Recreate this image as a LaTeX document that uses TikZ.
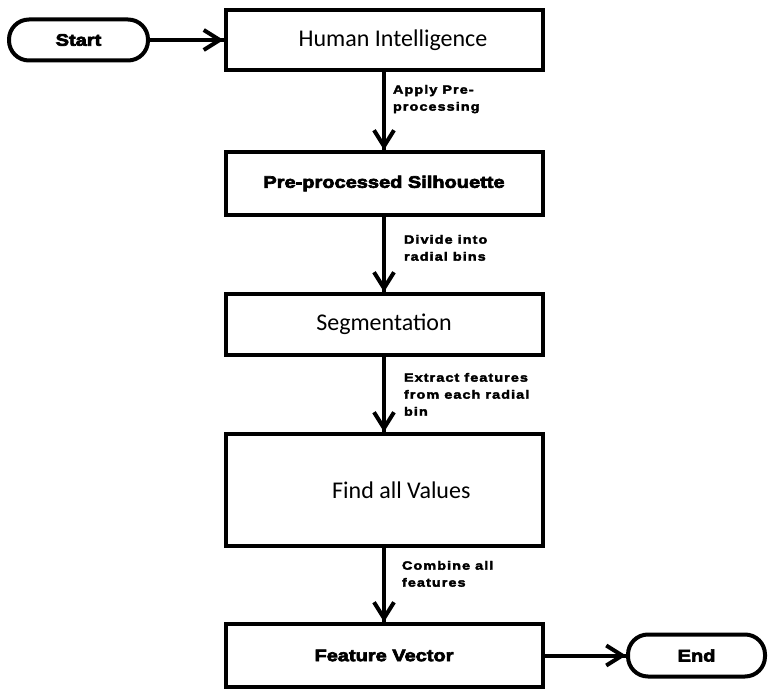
\documentclass[tikz,border=0pt]{standalone}
\usepackage{fontspec}
\usetikzlibrary{arrows.meta}
\usetikzlibrary{decorations.markings}
\usetikzlibrary{positioning}
\newfontfamily\calibrifont{Carlito}
\newfontfamily\blackfont[FakeStretch=1.2,FakeBold=4]{Liberation Sans Bold}
\newfontfamily\notefont[FakeStretch=1.2,LetterSpace=9,FakeBold=3]{Liberation Sans Bold}
\tikzset{flow/.style = {line width = 3pt,
                        decoration={markings,
                                    mark=at position 1 with {\arrow[line width=3pt]{Straight Barb[length=12pt, width=15pt]}}},
                        postaction={decorate}}}
\tikzset{box/.style = {draw, line width = 3pt, minimum width = 237.75pt, inner sep = 0}}
\tikzset{terminal/.style = {draw, line width = 3pt, rounded corners = 15pt, inner sep = 0,
                            font = \blackfont\fontsize{12.5}{14}\selectfont}}
\tikzset{note/.style = {align = left, inner sep = 0, outer sep = 0,
                        font = \notefont\fontsize{9}{12.75}\selectfont}}
\tikzset{plain/.style = {font = \calibrifont\fontsize{18}{22}\selectfont}}
\tikzset{heavy/.style = {font = \blackfont\fontsize{12.5}{14}\selectfont}}
\begin{document}
\begin{tikzpicture}[x = 0.75pt, y = -0.75pt]
  \useasboundingbox (0, 0) rectangle (774, 698);
  \node [terminal, minimum width = 104.25pt, minimum height = 30.75pt] (start) at (78.5, 40) {Start};
  \node [box, plain, minimum height = 45pt] (intel) at (384, 40) {\hspace*{13.5pt}Human Intelligence};
  \node [box, heavy, minimum height = 47.25pt] (silhouette) at (384, 183.5) {Pre-processed Silhouette};
  \node [box, plain, minimum height = 45.75pt] (segment) at (384, 324.5) {Segmentation};
  \node [box, plain, minimum height = 84pt] (values) at (384, 490) {\hspace*{26pt}Find all Values};
  \node [box, heavy, minimum height = 47.25pt] (fvector) at (384, 655.5) {Feature Vector};
  \node [terminal, minimum width = 102.75pt, minimum height = 31.5pt] (finish) at (696.5, 655.5) {End};
  \draw [flow] (start) -- (intel);
  \draw [flow] (intel) -- (silhouette);
  \draw [flow] (silhouette) -- (segment);
  \draw [flow] (segment) -- (values);
  \draw [flow] (values) -- (fvector);
  \draw [flow] (fvector) -- (finish);
  \node [note, below right = 9.75pt and 6.75pt of intel.south] (apply) {Apply Pre-\\processing};
  \node [note, below right = 13.5pt and 15pt of silhouette.south] (divide) {Divide into\\radial bins};
  \node [note, below right = 12pt and 15pt of segment.south] (extract) {Extract features\\from each radial\\bin};
  \node [note, below right = 9.75pt and 13.5pt of values.south] (combine) {Combine all\\features};
\end{tikzpicture}
\end{document}
